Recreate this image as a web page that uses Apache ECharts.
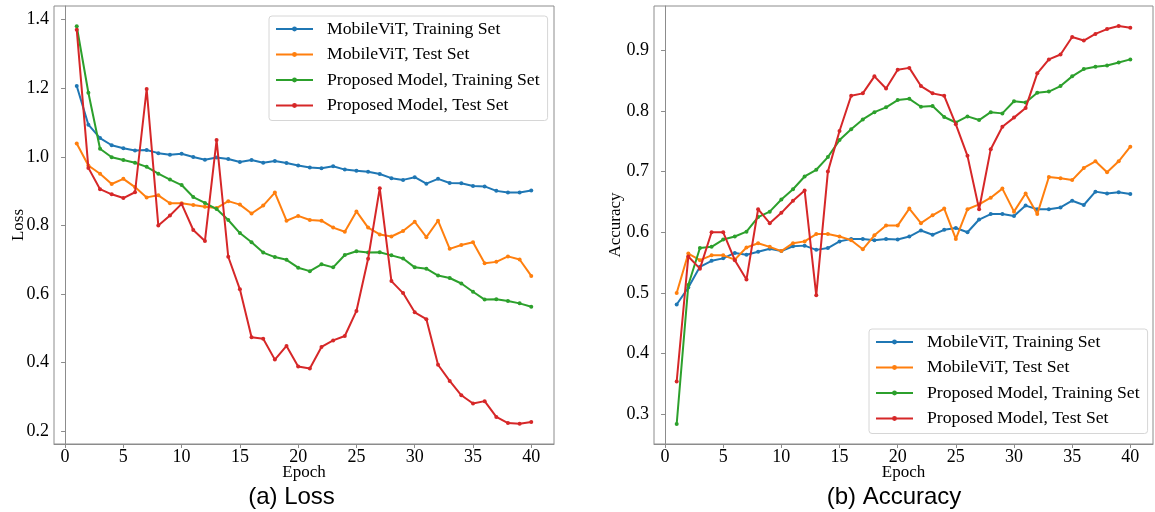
<!DOCTYPE html>
<html><head><meta charset="utf-8">
<script src="https://cdn.jsdelivr.net/npm/echarts@6/dist/echarts.min.js"></script>
<style>html,body{margin:0;padding:0;background:#fff}#c{width:1155px;height:512px}</style>
</head><body><div id="c"></div>
<script>
const epochs = Array.from({length: 40}, (_, i) => i + 1);
const seriesNames = ['MobileViT, Training Set', 'MobileViT, Test Set', 'Proposed Model, Training Set', 'Proposed Model, Test Set'];
const colors = ['#1f77b4', '#ff7f0e', '#2ca02c', '#d62728'];
const xTicks = [0, 5, 10, 15, 20, 25, 30, 35, 40];
const lossTicks = [0.2, 0.4, 0.6, 0.8, 1.0, 1.2, 1.4];
const accTicks = [0.3, 0.4, 0.5, 0.6, 0.7, 0.8, 0.9];

const lossMobileTrain = [1.207,1.094,1.055,1.034,1.025,1.019,1.020,1.011,1.006,1.009,1.000,0.992,0.998,0.994,0.985,0.991,0.983,0.988,0.982,0.975,0.969,0.967,0.973,0.963,0.960,0.957,0.950,0.938,0.933,0.941,0.922,0.936,0.924,0.923,0.915,0.914,0.901,0.896,0.896,0.902];
const lossMobileTest = [1.039,0.975,0.951,0.921,0.936,0.912,0.882,0.888,0.865,0.865,0.860,0.855,0.851,0.871,0.861,0.835,0.858,0.896,0.814,0.828,0.816,0.814,0.794,0.782,0.841,0.794,0.774,0.768,0.784,0.811,0.766,0.814,0.732,0.743,0.751,0.690,0.694,0.710,0.701,0.653];
const lossPropTrain = [1.381,1.187,1.024,0.999,0.991,0.983,0.971,0.951,0.934,0.918,0.883,0.866,0.848,0.816,0.778,0.751,0.721,0.708,0.700,0.677,0.667,0.687,0.678,0.714,0.725,0.721,0.722,0.713,0.704,0.678,0.674,0.654,0.647,0.631,0.607,0.584,0.585,0.580,0.573,0.563];
const lossPropTest = [1.371,0.968,0.906,0.891,0.880,0.897,1.198,0.800,0.829,0.863,0.787,0.755,1.049,0.709,0.614,0.474,0.470,0.409,0.449,0.389,0.383,0.446,0.465,0.478,0.551,0.703,0.909,0.638,0.603,0.547,0.527,0.394,0.347,0.305,0.281,0.288,0.242,0.224,0.222,0.227];

const accMobileTrain = [0.481,0.509,0.543,0.553,0.557,0.566,0.563,0.568,0.573,0.569,0.577,0.578,0.571,0.574,0.585,0.589,0.589,0.587,0.589,0.588,0.593,0.603,0.596,0.604,0.607,0.600,0.621,0.630,0.630,0.627,0.644,0.638,0.638,0.641,0.652,0.645,0.667,0.664,0.666,0.663];
const accMobileTest = [0.500,0.565,0.554,0.562,0.562,0.555,0.575,0.582,0.576,0.569,0.582,0.585,0.597,0.597,0.593,0.587,0.572,0.595,0.611,0.611,0.639,0.615,0.628,0.639,0.589,0.638,0.646,0.657,0.672,0.634,0.664,0.630,0.691,0.689,0.686,0.706,0.717,0.699,0.717,0.741];
const accPropTrain = [0.284,0.513,0.574,0.576,0.588,0.593,0.601,0.625,0.634,0.654,0.671,0.692,0.703,0.724,0.752,0.770,0.786,0.798,0.806,0.818,0.820,0.807,0.808,0.790,0.781,0.791,0.785,0.798,0.796,0.816,0.814,0.830,0.832,0.841,0.857,0.869,0.873,0.875,0.880,0.885];
const accPropTest = [0.354,0.560,0.540,0.600,0.600,0.554,0.522,0.638,0.615,0.632,0.652,0.669,0.496,0.700,0.767,0.825,0.829,0.857,0.837,0.868,0.871,0.841,0.829,0.825,0.778,0.726,0.638,0.737,0.774,0.789,0.805,0.862,0.885,0.893,0.922,0.916,0.927,0.935,0.940,0.937];

const lossData = [lossMobileTrain, lossMobileTest, lossPropTrain, lossPropTest];
const accData = [accMobileTrain, accMobileTest, accPropTrain, accPropTest];

const serif = 'Liberation Serif';
const frame = '#8c8c8c';

function xAxis(gi) {
  return {
    type: 'value', gridIndex: gi, min: -0.95, max: 41.95,
    name: 'Epoch', nameLocation: 'middle', nameGap: 20, nameMoveOverlap: false,
    nameTextStyle: {fontFamily: serif, fontSize: 17, color: '#000'},
    axisLine: {show: true, lineStyle: {color: frame, width: 1}},
    axisTick: {show: true, length: 4, customValues: xTicks, lineStyle: {color: frame}},
    axisLabel: {customValues: xTicks, fontFamily: serif, fontSize: 18, color: '#000', margin: 4},
    splitLine: {show: false}
  };
}
function yAxis(gi, name, min, max, ticks) {
  return {
    type: 'value', gridIndex: gi, min: min, max: max,
    name: name, nameLocation: 'middle', nameGap: gi === 0 ? 27 : 30, nameMoveOverlap: false,
    nameTextStyle: {fontFamily: serif, fontSize: 17, color: '#000'},
    axisLine: {show: true, lineStyle: {color: frame, width: 1}},
    axisTick: {show: true, length: 4, customValues: ticks, lineStyle: {color: frame}},
    axisLabel: {customValues: ticks, fontFamily: serif, fontSize: 18, color: '#000', margin: 5,
      formatter: v => v.toFixed(1)},
    splitLine: {show: false}
  };
}

const series = [];
[lossData, accData].forEach((set, gi) => {
  set.forEach((arr, i) => {
    series.push({
      name: seriesNames[i], type: 'line', xAxisIndex: gi, yAxisIndex: gi,
      data: epochs.map((e, k) => [e, arr[k]]),
      symbol: 'circle', symbolSize: 4, showSymbol: true,
      lineStyle: {color: colors[i], width: 2},
      itemStyle: {color: colors[i]},
      animation: false, z: 2 + i
    });
  });
});

function legend(left, top) {
  return {
    orient: 'vertical', left: left, top: top,
    data: seriesNames, itemWidth: 37, itemHeight: 6, itemGap: 7.5,
    padding: [4, 8, 6, 6],
    borderColor: '#d6d6d6', borderWidth: 1, borderRadius: 3, backgroundColor: '#fff',
    textStyle: {fontFamily: serif, fontSize: 17.7, color: '#000', padding: [0, 0, 0, 9]},
    selectedMode: false
  };
}

const chart = echarts.init(document.getElementById('c'), null, {renderer: 'canvas'});
chart.setOption({
  animation: false,
  color: colors,
  grid: [
    {left: 54, top: 6, width: 500, height: 438, show: true, borderColor: frame, borderWidth: 1, backgroundColor: '#fff'},
    {left: 654, top: 6, width: 499, height: 438, show: true, borderColor: frame, borderWidth: 1, backgroundColor: '#fff'}
  ],
  xAxis: [xAxis(0), xAxis(1)],
  yAxis: [yAxis(0, 'Loss', 0.163, 1.44, lossTicks), yAxis(1, 'Accuracy', 0.251, 0.973, accTicks)],
  legend: [legend(269, 16), legend(869, 329)],
  series: series,
  graphic: [
    {type: 'text', style: {text: '(a) Loss', x: 291.5, y: 497, textAlign: 'center', textVerticalAlign: 'middle', font: '24px "Liberation Sans"', fill: '#000'}},
    {type: 'text', style: {text: '(b) Accuracy', x: 894, y: 497, textAlign: 'center', textVerticalAlign: 'middle', font: '24px "Liberation Sans"', fill: '#000'}}
  ]
});
</script></body></html>
